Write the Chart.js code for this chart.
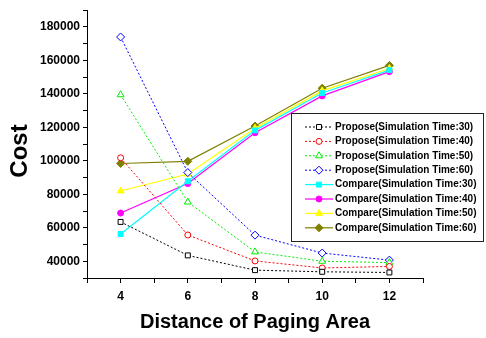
<!DOCTYPE html>
<html>
<head>
<meta charset="utf-8">
<script src="https://cdn.jsdelivr.net/npm/chart.js@4/dist/chart.umd.min.js"></script>
<style>
  html, body { margin: 0; padding: 0; background: #fff; }
  canvas { display: block; }
</style>
</head>
<body>
<canvas id="chart" width="486" height="338"></canvas>
<script>
// x values: distance of paging area
const distances = [4, 6, 8, 10, 12];

// proposed scheme, simulation time 30/40/50/60
const proposeT30 = [63500, 43500, 34700, 33700, 33300];
const proposeT40 = [101800, 55700, 40200, 36000, 36900];
const proposeT50 = [139500, 75400, 45600, 40000, 39200];
const proposeT60 = [174000, 93000, 55600, 44900, 40700];

// compared scheme
const compareT30 = [56300, 87800, 118200, 140500, 154200];
const compareT40 = [68800, 86400, 116800, 138800, 153300];
const compareT50 = [82000, 92100, 119500, 141800, 155200];
const compareT60 = [98400, 99700, 120800, 143400, 157000];

const xTickLabels = [4, 6, 8, 10, 12];
const yTickLabels = [40000, 60000, 80000, 100000, 120000, 140000, 160000, 180000];

const FONT = 'Arial, "Liberation Sans", sans-serif';
Chart.defaults.font.family = FONT;
Chart.defaults.color = '#000';

function points(values) {
  return values.map((v, i) => ({ x: distances[i], y: v }));
}

function propose(label, values, color, shape, radius) {
  return {
    label, data: points(values),
    borderColor: color, borderWidth: 1, borderDash: [2, 2],
    pointStyle: shape, pointRadius: radius,
    pointBackgroundColor: '#fff', pointBorderColor: color, pointBorderWidth: 1
  };
}

function compare(label, values, color, shape, radius) {
  return {
    label, data: points(values),
    borderColor: color, borderWidth: 1.2,
    pointStyle: shape, pointRadius: radius,
    pointBackgroundColor: color, pointBorderColor: color, pointBorderWidth: 1
  };
}

const datasets = [
  propose('Propose(Simulation Time:30)', proposeT30, '#000000', 'rect', 3.5),
  propose('Propose(Simulation Time:40)', proposeT40, '#ff0000', 'circle', 3),
  propose('Propose(Simulation Time:50)', proposeT50, '#00ee00', 'triangle', 4),
  propose('Propose(Simulation Time:60)', proposeT60, '#0000ff', 'rectRot', 4),
  compare('Compare(Simulation Time:30)', compareT30, '#00ffff', 'rect', 3.5),
  compare('Compare(Simulation Time:40)', compareT40, '#ff00ff', 'circle', 3),
  compare('Compare(Simulation Time:50)', compareT50, '#ffff00', 'triangle', 4),
  compare('Compare(Simulation Time:60)', compareT60, '#808000', 'rectRot', 4)
];

// legend drawn as a framed box inside the plot, like the original figure
const boxLegend = {
  id: 'boxLegend',
  afterDraw(chart) {
    const ctx = chart.ctx;
    const left = 291, top = 113, w = 192, h = 128;
    ctx.save();
    ctx.fillStyle = '#fff';
    ctx.fillRect(left, top, w, h);
    ctx.strokeStyle = '#222';
    ctx.lineWidth = 1;
    ctx.strokeRect(left + 0.5, top + 0.5, w, h);
    chart.data.datasets.forEach((ds, i) => {
      const cy = top + 14 + i * 14.4;
      ctx.strokeStyle = ds.borderColor;
      ctx.lineWidth = ds.borderWidth;
      ctx.setLineDash(ds.borderDash || []);
      ctx.beginPath();
      ctx.moveTo(305, cy);
      ctx.lineTo(333, cy);
      ctx.stroke();
      ctx.setLineDash([]);
      ctx.fillStyle = ds.pointBackgroundColor;
      ctx.strokeStyle = ds.pointBorderColor;
      ctx.lineWidth = 1;
      Chart.helpers.drawPoint(ctx, { pointStyle: ds.pointStyle, radius: ds.pointRadius, rotation: 0, borderWidth: 1 }, 319, cy);
      ctx.fillStyle = '#000';
      ctx.font = 'bold 10px ' + FONT;
      ctx.textBaseline = 'middle';
      ctx.textAlign = 'left';
      ctx.fillText(ds.label, 335, cy);
    });
    // y axis title
    ctx.translate(20, 151);
    ctx.rotate(-Math.PI / 2);
    ctx.font = 'bold 24px ' + FONT;
    ctx.textAlign = 'center';
    ctx.textBaseline = 'middle';
    ctx.fillText('Cost', 0, 0);
    ctx.restore();
  }
};

new Chart(document.getElementById('chart'), {
  type: 'line',
  data: { datasets },
  options: {
    responsive: false,
    animation: false,
    devicePixelRatio: 1,
    layout: { padding: { left: 0, top: 3, right: 63, bottom: 0 } },
    plugins: { legend: { display: false }, tooltip: { enabled: false } },
    scales: {
      x: {
        type: 'linear', min: 3, max: 13,
        afterFit: s => { s.height = 60; },
        border: { color: '#000', width: 1 },
        grid: { drawOnChartArea: false, tickLength: 5, tickColor: '#000' },
        ticks: {
          stepSize: 1, autoSkip: false, maxRotation: 0, padding: 6,
          font: { size: 12, weight: 'bold' },
          callback: v => xTickLabels.includes(v) ? String(v) : ''
        },
        title: {
          display: true, text: 'Distance of Paging Area',
          font: { size: 20, weight: 'bold' },
          padding: { top: 0, bottom: 4 }
        }
      },
      y: {
        min: 30000, max: 190000,
        afterFit: s => { s.width = 87; },
        border: { color: '#000', width: 1 },
        grid: { drawOnChartArea: false, tickLength: 4, tickColor: '#000' },
        ticks: {
          stepSize: 10000, autoSkip: false, padding: 3,
          font: { size: 12, weight: 'bold' },
          callback: v => yTickLabels.includes(v) ? String(v) : ''
        }
      }
    }
  },
  plugins: [boxLegend]
});
</script>
</body>
</html>
